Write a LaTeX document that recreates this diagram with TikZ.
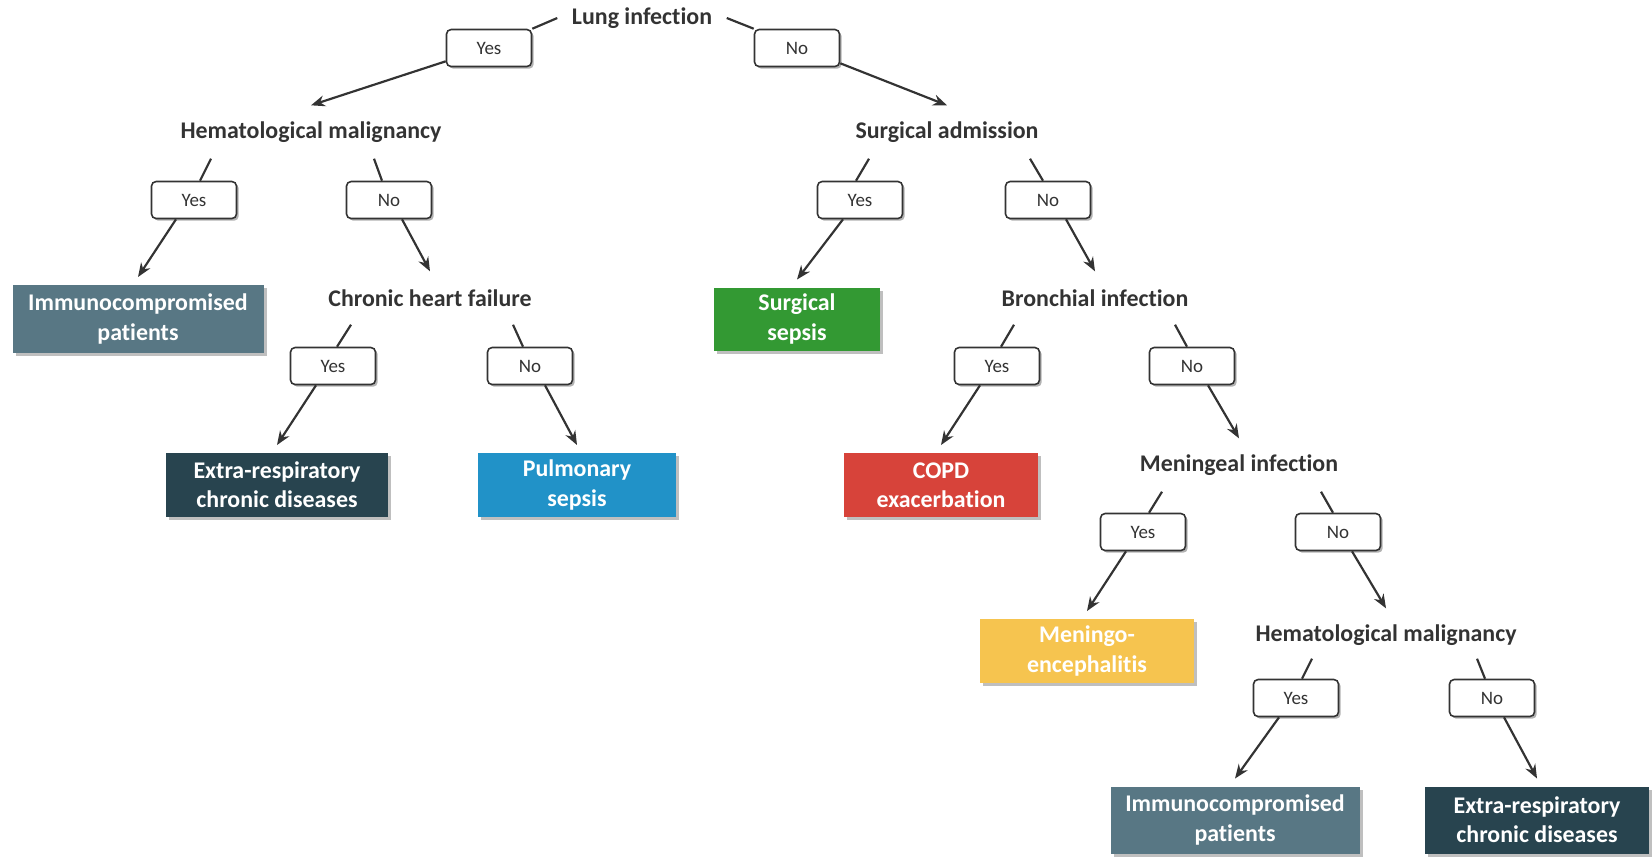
\documentclass[tikz,border=0pt]{standalone}
\usepackage{fontspec}
\setmainfont{Carlito}[Ligatures=NoCommon]
\usepackage{tikz}
\usetikzlibrary{arrows.meta,shadows}
\definecolor{slateI}{HTML}{587784}
\definecolor{darkE}{HTML}{28444F}
\definecolor{blueP}{HTML}{2192C8}
\definecolor{greenS}{HTML}{339933}
\definecolor{redC}{HTML}{D7433A}
\definecolor{yellowM}{HTML}{F6C44F}
\definecolor{lineG}{HTML}{333333}
\definecolor{textG}{HTML}{333333}

\begin{document}
\begin{tikzpicture}[
  q/.style={inner xsep=0.14cm, inner ysep=0pt, minimum height=0.52cm, text=textG, font=\fontsize{6.8}{8.2}\selectfont\bfseries},
  ans/.style={draw=lineG, line width=0.45pt, rounded corners=1.3pt, fill=white, minimum width=0.85cm, minimum height=0.37cm, inner sep=0pt, text=textG, font=\fontsize{5.4}{6.5}\selectfont, drop shadow={shadow xshift=0.022cm, shadow yshift=-0.022cm, fill=black, opacity=0.3}},
  leaf/.style={inner sep=0pt, minimum height=0.64cm, align=center, text=white, outer sep=0.08cm, font=\fontsize{6.8}{8.3}\selectfont\bfseries, drop shadow={shadow xshift=0.03cm, shadow yshift=-0.03cm, fill=black, opacity=0.25}},
  link/.style={lineG, line width=0.62pt},
  arr/.style={link, -{Stealth[length=0.14cm, width=0.11cm]}}
]
\useasboundingbox (0,0) rectangle (16.52,-8.56);

% Questions
\node[q] (lung) at (6.42,-0.18) {Lung infection};
\node[q] (hemA) at (3.11,-1.32) {Hematological malignancy};
\node[q] (surg) at (9.47,-1.32) {Surgical admission};
\node[q] (chf)  at (4.30,-2.98) {Chronic heart failure};
\node[q] (bron) at (10.95,-2.98) {Bronchial infection};
\node[q] (men)  at (12.39,-4.65) {Meningeal infection};
\node[q] (hemB) at (13.86,-6.35) {Hematological malignancy};

% Answers
\node[ans] (yA) at (4.89,-0.48) {Yes};
\node[ans] (nA) at (7.97,-0.48) {No};
\node[ans] (yB) at (1.94,-2.00) {Yes};
\node[ans] (nB) at (3.89,-2.00) {No};
\node[ans] (yC) at (3.33,-3.66) {Yes};
\node[ans] (nC) at (5.30,-3.66) {No};
\node[ans] (yD) at (8.60,-2.00) {Yes};
\node[ans] (nD) at (10.48,-2.00) {No};
\node[ans] (yE) at (9.97,-3.66) {Yes};
\node[ans] (nE) at (11.92,-3.66) {No};
\node[ans] (yF) at (11.43,-5.32) {Yes};
\node[ans] (nF) at (13.38,-5.32) {No};
\node[ans] (yG) at (12.96,-6.98) {Yes};
\node[ans] (nG) at (14.92,-6.98) {No};

% Outcomes
\node[leaf, fill=slateI, minimum width=2.51cm, minimum height=0.68cm] (immA) at (1.38,-3.19) {Immunocompromised\\patients};
\node[leaf, fill=darkE, minimum width=2.22cm] (extA) at (2.77,-4.85) {Extra-respiratory\\chronic diseases};
\node[leaf, fill=blueP, minimum width=1.98cm] (pulm) at (5.77,-4.85) {Pulmonary\\sepsis};
\node[leaf, fill=greenS, minimum width=1.66cm, minimum height=0.63cm] (ssep) at (7.97,-3.19) {Surgical\\sepsis};
\node[leaf, fill=redC, minimum width=1.94cm] (copd) at (9.41,-4.85) {COPD\\exacerbation};
\node[leaf, fill=yellowM, minimum width=2.14cm] (mening) at (10.87,-6.51) {Meningo-\\encephalitis};
\node[leaf, fill=slateI, minimum width=2.49cm, minimum height=0.67cm] (immB) at (12.35,-8.20) {Immunocompromised\\patients};
\node[leaf, fill=darkE, minimum width=2.24cm, minimum height=0.67cm] (extB) at (15.37,-8.20) {Extra-respiratory\\chronic diseases};

% Lung infection
\draw[link] (lung.west) -- (yA.north east);
\draw[arr] ([yshift=0.06cm]yA.south west) -- (hemA.north);
\draw[link] (lung.east) -- (nA.north west);
\draw[arr] ([yshift=0.04cm]nA.south east) -- (surg.north);

% Hematological malignancy (left)
\draw[link] ([xshift=-1.00cm]hemA.south) -- ([xshift=0.06cm]yB.north);
\draw[arr] ([xshift=-0.18cm]yB.south) -- (immA.north);
\draw[link] ([xshift=0.63cm]hemA.south) -- ([xshift=-0.07cm]nB.north);
\draw[arr] ([xshift=0.13cm]nB.south) -- (chf.north);

% Chronic heart failure
\draw[link] ([xshift=-0.79cm]chf.south) -- ([xshift=0.04cm]yC.north);
\draw[arr] ([xshift=-0.17cm]yC.south) -- (extA.north);
\draw[link] ([xshift=0.83cm]chf.south) -- ([xshift=-0.07cm]nC.north);
\draw[arr] ([xshift=0.15cm]nC.south) -- (pulm.north);

% Surgical admission
\draw[link] ([xshift=-0.78cm]surg.south) -- ([xshift=-0.04cm]yD.north);
\draw[arr] ([xshift=-0.17cm]yD.south) -- (ssep.north);
\draw[link] ([xshift=0.83cm]surg.south) -- ([xshift=-0.05cm]nD.north);
\draw[arr] ([xshift=0.18cm]nD.south) -- (bron.north);

% Bronchial infection
\draw[link] ([xshift=-0.81cm]bron.south) -- ([xshift=0.04cm]yE.north);
\draw[arr] ([xshift=-0.17cm]yE.south) -- (copd.north);
\draw[link] ([xshift=0.80cm]bron.south) -- ([xshift=-0.05cm]nE.north);
\draw[arr] ([xshift=0.16cm]nE.south) -- (men.north);

% Meningeal infection
\draw[link] ([xshift=-0.77cm]men.south) -- ([xshift=0.06cm]yF.north);
\draw[arr] ([xshift=-0.17cm]yF.south) -- (mening.north);
\draw[link] ([xshift=0.82cm]men.south) -- ([xshift=-0.05cm]nF.north);
\draw[arr] ([xshift=0.14cm]nF.south) -- (hemB.north);

% Hematological malignancy (right)
\draw[link] ([xshift=-0.74cm,yshift=0.03cm]hemB.south) -- ([xshift=0.06cm]yG.north);
\draw[arr] ([xshift=-0.17cm]yG.south) -- (immB.north);
\draw[link] ([xshift=0.91cm,yshift=0.03cm]hemB.south) -- ([xshift=-0.07cm]nG.north);
\draw[arr] ([xshift=0.12cm]nG.south) -- (extB.north);
\end{tikzpicture}
\end{document}
